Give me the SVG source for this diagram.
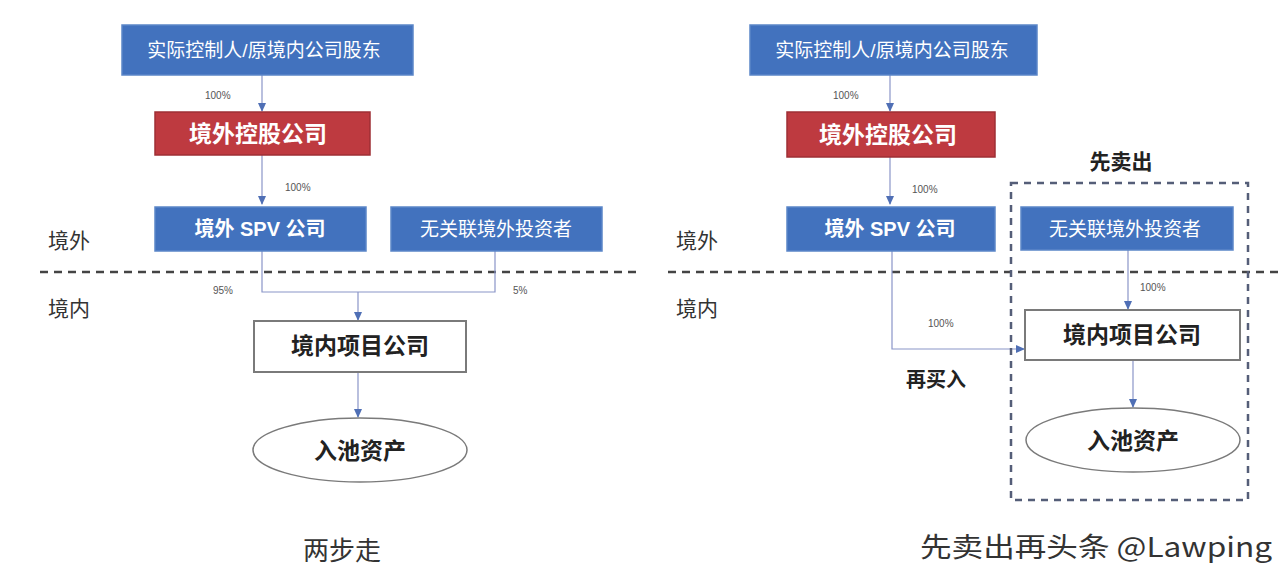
<svg xmlns="http://www.w3.org/2000/svg" width="1286" height="574" viewBox="0 0 1286 574">
<defs>
<style>
.blue{fill:#4272BE;stroke:#5B86C8;stroke-width:1.5}
.red{fill:#BE3A40;stroke:#9E2F35;stroke-width:1.5}
.white{fill:#ffffff;stroke:#7a7a7a;stroke-width:2}
.t{font-family:"Liberation Sans","Noto Sans CJK SC",sans-serif;text-anchor:middle;dominant-baseline:central}
.wt{fill:#ffffff;font-size:19px}
.wb{fill:#ffffff;font-size:20px;font-weight:bold}
.wr{fill:#ffffff;font-size:23px;font-weight:bold}
.bk{fill:#222;font-size:23px;font-weight:bold}
.pct{font-family:"Liberation Sans",sans-serif;font-size:10px;fill:#555}
.side{font-family:"Noto Sans CJK SC",sans-serif;font-size:21px;fill:#333}
.con{fill:none;stroke:#8A95C8;stroke-width:1.2}
.sep{stroke:#444;stroke-width:2.5;stroke-dasharray:8,6}
</style>
<marker id="ah" markerWidth="10" markerHeight="10" refX="8" refY="5" orient="auto" markerUnits="userSpaceOnUse">
<path d="M0,1 L9,5 L0,9 z" fill="#4F6FB5"/>
</marker>
</defs>
<rect width="1286" height="574" fill="#ffffff"/>

<!-- separators -->
<line class="sep" x1="40" y1="272" x2="642" y2="272"/>
<line class="sep" x1="668" y1="272" x2="1284" y2="272"/>
<text class="side" x="48" y="248">境外</text>
<text class="side" x="48" y="316">境内</text>
<text class="side" x="676" y="248">境外</text>
<text class="side" x="676" y="316">境内</text>

<!-- connectors -->
<g id="connectors">
<line class="con" x1="262" y1="75" x2="262" y2="111" marker-end="url(#ah)"/>
<line class="con" x1="262" y1="155" x2="262" y2="204" marker-end="url(#ah)"/>
<polyline class="con" points="262,250 262,292 495,292 495,250"/>
<line class="con" x1="358" y1="292" x2="358" y2="320" marker-end="url(#ah)"/>
<line class="con" x1="358" y1="372" x2="358" y2="417" marker-end="url(#ah)"/>
<line class="con" x1="890" y1="75" x2="890" y2="111" marker-end="url(#ah)"/>
<line class="con" x1="890" y1="157" x2="890" y2="204" marker-end="url(#ah)"/>
<line class="con" x1="1128" y1="250" x2="1128" y2="309" marker-end="url(#ah)"/>
<polyline class="con" points="892,250 892,349 1024,349" marker-end="url(#ah)"/>
<line class="con" x1="1133" y1="360" x2="1133" y2="407" marker-end="url(#ah)"/>
<text class="pct" x="205" y="99">100%</text>
<text class="pct" x="285" y="191">100%</text>
<text class="pct" x="213" y="294">95%</text>
<text class="pct" x="513" y="294">5%</text>
<text class="pct" x="833" y="99">100%</text>
<text class="pct" x="912" y="193">100%</text>
<text class="pct" x="1140" y="291">100%</text>
<text class="pct" x="928" y="327">100%</text>
</g>

<!-- left -->
<g id="l-shareholder"><rect class="blue" x="122" y="25" width="291" height="50"/><text class="t wt" x="264" y="50">实际控制人/原境内公司股东</text></g>
<g id="l-holding"><rect class="red" x="155" y="112" width="215" height="43"/><text class="t wr" x="258" y="134">境外控股公司</text></g>
<g id="l-spv"><rect class="blue" x="155" y="207" width="211" height="44"/><text class="t wb" x="260" y="229">境外 SPV 公司</text></g>
<g id="l-investor"><rect class="blue" x="391" y="207" width="211" height="44"/><text class="t wt" x="496" y="229">无关联境外投资者</text></g>
<g id="l-project"><rect class="white" x="254" y="321" width="212" height="51"/><text class="t bk" x="360" y="346">境内项目公司</text></g>
<g id="l-assets"><ellipse cx="360" cy="450" rx="107" ry="32" fill="#fff" stroke="#7a7a7a" stroke-width="1.5"/><text class="t bk" x="360" y="451">入池资产</text></g>
<text class="t" x="342" y="548" style="font-size:26px;fill:#333;font-family:'Noto Sans CJK SC',sans-serif">两步走</text>

<!-- right -->
<g id="r-shareholder"><rect class="blue" x="750" y="25" width="287" height="50"/><text class="t wt" x="892" y="50">实际控制人/原境内公司股东</text></g>
<g id="r-holding"><rect class="red" x="787" y="112" width="208" height="45"/><text class="t wr" x="888" y="135">境外控股公司</text></g>
<g id="r-spv"><rect class="blue" x="787" y="207" width="208" height="44"/><text class="t wb" x="890" y="229">境外 SPV 公司</text></g>
<g id="r-sellbox"><rect x="1011" y="183" width="237" height="317" fill="none" stroke="#555E78" stroke-width="2.5" stroke-dasharray="7,6"/><text class="t" x="1121" y="160" style="font-size:21px;font-weight:bold;fill:#222;font-family:'Noto Sans CJK SC',sans-serif">先卖出</text></g>
<g id="r-investor"><rect class="blue" x="1021" y="207" width="212" height="43"/><text class="t wt" x="1125" y="229">无关联境外投资者</text></g>
<g id="r-project"><rect class="white" x="1025" y="310" width="215" height="50"/><text class="t bk" x="1132" y="335">境内项目公司</text></g>
<g id="r-assets"><ellipse cx="1133" cy="440" rx="107" ry="32" fill="#fff" stroke="#7a7a7a" stroke-width="1.5"/><text class="t bk" x="1133" y="441">入池资产</text></g>
<text class="t" x="936" y="378" style="font-size:20px;font-weight:bold;fill:#222;font-family:'Noto Sans CJK SC',sans-serif">再买入</text>
<text x="920" y="557" textLength="352" lengthAdjust="spacingAndGlyphs" style="font-size:27px;fill:#333;font-family:'Noto Sans CJK SC',sans-serif">先卖出再头条 @Lawping</text>
</svg>
